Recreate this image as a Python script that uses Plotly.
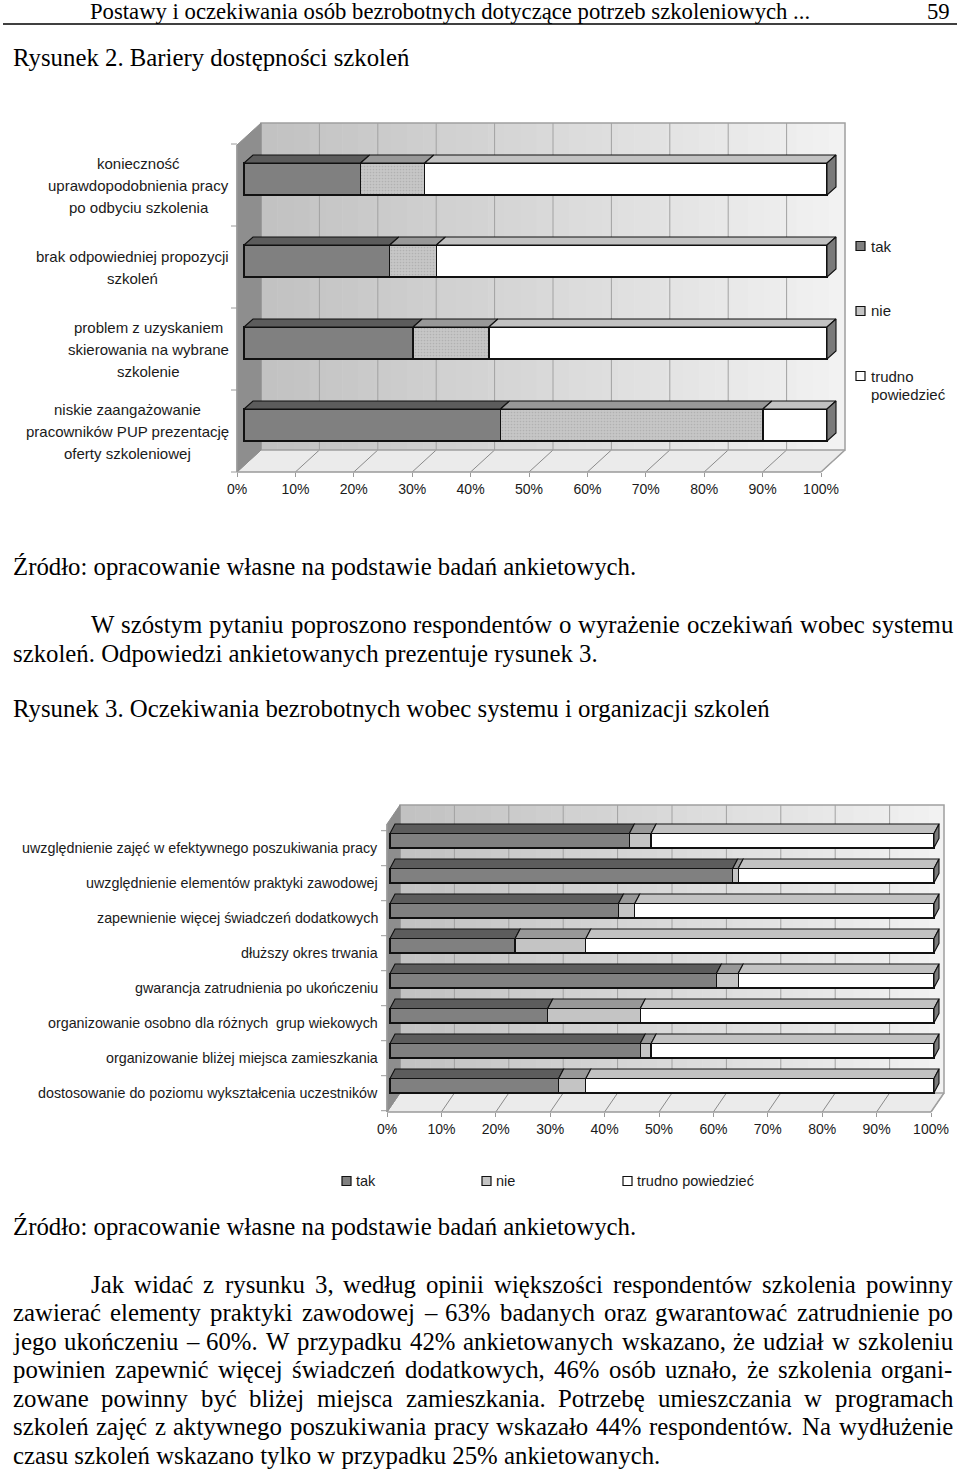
import plotly.graph_objects as go

# ---------------- data ----------------
series_names = ["tak", "nie", "trudno powiedzieć"]

barriers = [
    "konieczność uprawdopodobnienia pracy po odbyciu szkolenia",
    "brak odpowiedniej propozycji szkoleń",
    "problem z uzyskaniem skierowania na wybrane szkolenie",
    "niskie zaangażowanie pracowników PUP prezentację oferty szkoleniowej",
]
barrier_label_lines = [
    ["konieczność", "uprawdopodobnienia pracy", "po odbyciu szkolenia"],
    ["brak odpowiedniej propozycji", "szkoleń"],
    ["problem z uzyskaniem", "skierowania na wybrane", "szkolenie"],
    ["niskie zaangażowanie", "pracowników PUP prezentację", "oferty szkoleniowej"],
]
barrier_tak = [20, 25, 29, 44]
barrier_nie = [11, 8, 13, 45]
barrier_trudno = [69, 67, 58, 11]

expectations = [
    "uwzględnienie zajęć w efektywnego poszukiwania pracy",
    "uwzględnienie elementów praktyki zawodowej",
    "zapewnienie więcej świadczeń dodatkowych",
    "dłuższy okres trwania",
    "gwarancja zatrudnienia po ukończeniu",
    "organizowanie osobno dla różnych  grup wiekowych",
    "organizowanie bliżej miejsca zamieszkania",
    "dostosowanie do poziomu wykształcenia uczestników",
]
expect_tak = [44, 63, 42, 23, 60, 29, 46, 31]
expect_nie = [4, 1, 3, 13, 4, 17, 2, 5]
expect_trudno = [52, 36, 55, 64, 36, 54, 52, 64]

tick_values = [0, 10, 20, 30, 40, 50, 60, 70, 80, 90, 100]
tick_labels = ["0%", "10%", "20%", "30%", "40%", "50%", "60%", "70%", "80%", "90%", "100%"]

# ---------------- page text ----------------
header_text = "Postawy i oczekiwania osób bezrobotnych dotyczące potrzeb szkoleniowych ..."
page_number = "59"
fig2_title = "Rysunek 2. Bariery dostępności szkoleń"
fig3_title = "Rysunek 3. Oczekiwania bezrobotnych wobec systemu i organizacji szkoleń"
source_text = "Źródło: opracowanie własne na podstawie badań ankietowych."
para1 = [
    "W szóstym pytaniu poproszono respondentów o wyrażenie oczekiwań wobec systemu",
    "szkoleń. Odpowiedzi ankietowanych prezentuje rysunek 3.",
]
para2 = [
    "Jak widać z rysunku 3, według opinii większości respondentów szkolenia powinny",
    "zawierać elementy praktyki zawodowej – 63% badanych oraz gwarantować zatrudnienie po",
    "jego ukończeniu – 60%. W przypadku 42% ankietowanych wskazano, że udział w szkoleniu",
    "powinien zapewnić więcej świadczeń dodatkowych, 46% osób uznało, że szkolenia organi-",
    "zowane powinny być bliżej miejsca zamieszkania. Potrzebę umieszczania w programach",
    "szkoleń zajęć z aktywnego poszukiwania pracy wskazało 44% respondentów. Na wydłużenie",
    "czasu szkoleń wskazano tylko w przypadku 25% ankietowanych.",
]

# ---------------- styles ----------------
W, H = 960, 1470
SANS = "Liberation Sans, Arial, sans-serif"
SERIF = "Liberation Serif, Times New Roman, serif"
C_TAK, C_NIE, C_TRUD = "#808080", "#c4c4c4", "#ffffff"
T_TAK, T_NIE, T_TRUD = "#5c5c5c", "#989898", "#c2c2c2"
C_SIDE = "#7a7a7a"
LABEL_COLOR = "#1a1a1a"

def X(p):
    return p / W

def Y(p):
    return 1 - p / H

TIMES = {' ': 250, ',': 250, '.': 250, ':': 278, '%': 833, '–': 500, '-': 333}
for ch, w in zip("abcdefghijklmnopqrstuvwxyz",
                 [444, 500, 444, 500, 444, 333, 500, 500, 278, 278, 500, 278, 778,
                  500, 500, 500, 500, 333, 389, 278, 500, 500, 722, 500, 500, 444]):
    TIMES[ch] = w
for ch, w in zip("ABCDEFGHIJKLMNOPQRSTUVWXYZ",
                 [722, 667, 667, 722, 611, 556, 722, 722, 333, 389, 722, 611, 889,
                  722, 722, 556, 722, 667, 556, 611, 722, 722, 944, 722, 722, 611]):
    TIMES[ch] = w
TIMES.update({'ą': 444, 'ć': 444, 'ę': 444, 'ł': 278, 'ń': 500, 'ó': 500, 'ś': 389,
              'ź': 444, 'ż': 444, 'Ź': 611, 'Ż': 611, 'Ś': 556})

ARIAL = {' ': 278}
for ch, w in zip("abcdefghijklmnopqrstuvwxyz",
                 [556, 556, 500, 556, 556, 278, 556, 556, 222, 222, 500, 222, 833,
                  556, 556, 556, 556, 333, 500, 278, 556, 500, 722, 500, 500, 500]):
    ARIAL[ch] = w
ARIAL.update({'ą': 556, 'ć': 500, 'ę': 556, 'ł': 222, 'ń': 556, 'ó': 556, 'ś': 500,
              'ź': 500, 'ż': 500, 'P': 667, 'U': 722})

def width(s, table, size, default=500):
    return sum(table.get(c, default) for c in s) / 1000.0 * size

shapes = []
annotations = []

def poly(points, fill, lc=None, lw=0, layer="below"):
    path = "M " + " L ".join(f"{X(x):.6f},{Y(y):.6f}" for x, y in points) + " Z"
    shapes.append(dict(type="path", xref="paper", yref="paper", path=path,
                       fillcolor=fill, line=dict(color=lc or fill, width=lw), layer=layer))

def seg(x0, y0, x1, y1, color, w=1, layer="below"):
    shapes.append(dict(type="line", xref="paper", yref="paper", x0=X(x0), y0=Y(y0),
                       x1=X(x1), y1=Y(y1), line=dict(color=color, width=w), layer=layer))

def text(t, x, y, size, family=SERIF, xanchor="left", color="#000000", **kw):
    annotations.append(dict(text=t, x=X(x), y=Y(y), xref="paper", yref="paper",
                            xanchor=xanchor, yanchor="middle", showarrow=False,
                            borderpad=0, font=dict(family=family, size=size, color=color), **kw))

def justified(t, x0, x1, y, size):
    words = t.split(" ")
    ws = [width(w, TIMES, size) for w in words]
    gap = (x1 - x0 - sum(ws)) / (len(words) - 1)
    x = x0
    for w, wd in zip(words, ws):
        text(w, x, y, size)
        x += wd + gap

def draw_box(fx0, fx1, top, bot, dx, dy, ncat, catstep, cat0):
    bx0, bx1, bbot = fx0 + dx, fx1 + dx, bot - dy
    n = 36
    for i in range(n):
        a = i / (n - 1)
        g = int(194 + a * 48)
        xa = bx0 + (bx1 - bx0) * i / n
        xb = bx0 + (bx1 - bx0) * (i + 1) / n + 0.6
        poly([(xa, top), (xb, top), (xb, bbot), (xa, bbot)], f"rgb({g},{g},{g})")
    for k in range(1, 10):
        xk = bx0 + (bx1 - bx0) * k / 10
        seg(xk, top, xk, bbot, "#a2a2a2", 1)
    # floor
    poly([(fx0, bot), (bx0, bbot), (bx1, bbot), (fx1, bot)], "#ebebeb")
    for k in range(0, 11):
        xf = fx0 + (fx1 - fx0) * k / 10
        xb = bx0 + (bx1 - bx0) * k / 10
        seg(xf, bot, xb, bbot, "#8a8a8a", 1)
    # back wall border
    poly([(bx0, top), (bx1, top), (bx1, bbot), (bx0, bbot)], "rgba(0,0,0,0)", "#a0a0a0", 1.5)
    seg(bx1, bbot, fx1, bot, "#a0a0a0", 1.5)
    # left wall
    poly([(fx0, top + dy), (bx0, top), (bx0, bbot), (fx0, bot)], "#8e8e8e", "#8e8e8e", 1)
    seg(fx0, top + dy, fx0, bot, "#9a9a9a", 1.5)
    seg(fx0, bot, fx1, bot, "#9a9a9a", 1.5)
    for k in range(ncat + 1):
        yk = cat0 + catstep * k
        seg(fx0 - 6, yk, fx0, yk, "#9a9a9a", 1)

# ---------------- geometry (pixels) ----------------
# chart 1
C1_X0, C1_UNIT = 244, 5.83
C1_BOT_CENTER, C1_STEP = 425, 82
C1_BAR_H = 32
C1_DX, C1_DY = 9, 8
# chart 2
C2_X0, C2_UNIT = 390, 5.44
C2_BOT_CENTER, C2_STEP = 1085.7, 35
C2_BAR_H = 14.3
C2_DX, C2_DY = 5, 9.5

draw_box(237, 821, 123, 472, 24, 22, 4, 82, 144)
draw_box(387, 931, 805, 1112, 13, 19, 8, 35, 830.7)

fig = go.Figure()

def add_chart(xa, ya, cats, tak, nie, trud, bar_h, step, dxp, dyp, unit, pattern):
    n = len(cats)
    pos = [n - 1 - i for i in range(n)]
    bw = bar_h / step
    specs = [(tak, C_TAK, T_TAK, None), (nie, C_NIE, T_NIE, pattern), (trud, C_TRUD, T_TRUD, None)]
    base = [0] * n
    ddx, ddy = dxp / unit, dyp / step
    for (vals, fc, tc, pat), name in zip(specs, series_names):
        marker = dict(color=fc, line=dict(color="#111111", width=1.3))
        if pat:
            marker["pattern"] = pat
        fig.add_trace(go.Bar(y=pos, x=vals, base=base, orientation="h", width=bw, name=name,
                             marker=marker, xaxis=xa, yaxis=ya, showlegend=False,
                             customdata=cats,
                             hovertemplate="%{customdata}: %{x}%<extra>" + name + "</extra>"))
        px_, py_ = [], []
        for p, b, v in zip(pos, base, vals):
            yt = p + bw / 2
            px_ += [b, b + v, b + v + ddx, b + ddx, b, None]
            py_ += [yt, yt, yt + ddy, yt + ddy, yt, None]
        fig.add_trace(go.Scatter(x=px_, y=py_, fill="toself", fillcolor=tc, mode="lines",
                                 line=dict(color="#111111", width=1.1), xaxis=xa, yaxis=ya,
                                 showlegend=False, hoverinfo="skip"))
        base = [b + v for b, v in zip(base, vals)]
    sx, sy = [], []
    for p, b in zip(pos, base):
        sx += [b, b, b + ddx, b + ddx, b, None]
        sy += [p - bw / 2, p + bw / 2, p + bw / 2 + ddy, p - bw / 2 + ddy, p - bw / 2, None]
    fig.add_trace(go.Scatter(x=sx, y=sy, fill="toself", fillcolor=C_SIDE, mode="lines",
                             line=dict(color="#111111", width=1.1), xaxis=xa, yaxis=ya,
                             showlegend=False, hoverinfo="skip"))
    return pos

pos1 = add_chart("x", "y", barriers, barrier_tak, barrier_nie, barrier_trudno,
                 C1_BAR_H, C1_STEP, C1_DX, C1_DY, C1_UNIT,
                 dict(shape=".", bgcolor="#c6c6c6", fgcolor="#9c9c9c", size=3, solidity=0.25))
pos2 = add_chart("x2", "y2", expectations, expect_tak, expect_nie, expect_trudno,
                 C2_BAR_H, C2_STEP, C2_DX, C2_DY, C2_UNIT, None)

# invisible anchors so that the percentage axes (front edge of the floor) are drawn
for xa, ya in (("x3", "y3"), ("x4", "y4")):
    fig.add_trace(go.Scatter(x=tick_values, y=[0.5] * len(tick_values), mode="markers",
                             marker=dict(opacity=0, size=1), xaxis=xa, yaxis=ya,
                             showlegend=False, hoverinfo="skip"))

# category labels chart 1 (centered multi-line blocks)
for p, lines in zip(pos1, barrier_label_lines):
    maxw = max(width(l, ARIAL, 15, 556) for l in lines)
    cx = 229 - maxw / 2
    n = len(lines)
    for j, l in enumerate(lines):
        off = 6 + (j - (n - 1) / 2) * 22
        annotations.append(dict(text=l, x=X(cx), xref="paper", y=p, yref="y", yshift=-off,
                                xanchor="center", yanchor="middle", showarrow=False, borderpad=0,
                                font=dict(family=SANS, size=15, color=LABEL_COLOR)))
# category labels chart 2
for p, l in zip(pos2, expectations):
    annotations.append(dict(text=l, x=X(379), xref="paper", y=p, yref="y2", yshift=-7,
                            xanchor="right", yanchor="middle", showarrow=False, borderpad=0,
                            font=dict(family=SANS, size=14.3, color=LABEL_COLOR)))

# legends
def legend_box(x, y, fill):
    poly([(x, y - 4.5), (x + 9, y - 4.5), (x + 9, y + 4.5), (x, y + 4.5)], fill, "#111111", 1.2, "above")

for (name, fill, yy) in zip(series_names, [C_TAK, C_NIE, C_TRUD], [246, 311, 376]):
    legend_box(856, yy, fill)
    if name == "trudno powiedzieć":
        text("trudno", 870, 376, 15, SANS, color=LABEL_COLOR)
        text("powiedzieć", 870, 395, 15, SANS, color=LABEL_COLOR)
    else:
        text(name, 870, yy, 15, SANS, color=LABEL_COLOR)
for (name, fill, bx) in zip(series_names, [C_TAK, C_NIE, C_TRUD], [342, 482, 623]):
    legend_box(bx, 1181, fill)
    text(name, bx + 13, 1181, 14.5, SANS, color=LABEL_COLOR)

# page text
BODY = 24.8
text(header_text, 89, 12, 22.7)
text(page_number, 951, 12, 22.7, xanchor="right")
seg(3, 24, 957, 24, "#000000", 1.5, "above")
text(fig2_title, 12, 57, BODY)
text(source_text, 12, 566, BODY)
justified(para1[0], 90, 952, 625, BODY)
text(para1[1], 12, 653, BODY)
text(fig3_title, 12, 708, BODY)
text(source_text, 12, 1226, BODY)
for i, l in enumerate(para2):
    yy = 1284 + i * 28.5
    if i == len(para2) - 1:
        text(l, 12, yy, BODY)
    else:
        justified(l, 90 if i == 0 else 12, 952, yy, BODY)

hidden = dict(visible=False, fixedrange=True, automargin=False)
tickaxis = dict(range=[0, 100], tickvals=tick_values, ticktext=tick_labels, ticks="outside",
                ticklen=4, tickcolor="#9a9a9a", showgrid=False, zeroline=False, showline=False,
                automargin=False,
                tickfont=dict(family=SANS, size=14, color=LABEL_COLOR), fixedrange=True)

fig.update_layout(
    width=W, height=H, autosize=False,
    margin=dict(l=0, r=0, t=0, b=0, autoexpand=False),
    paper_bgcolor="#ffffff", plot_bgcolor="rgba(0,0,0,0)",
    barmode="stack", showlegend=False,
    xaxis=dict(domain=[X(237), X(845)], range=[(237 - C1_X0) / C1_UNIT, (845 - C1_X0) / C1_UNIT], anchor="y", **hidden),
    yaxis=dict(domain=[Y(472), Y(123)], range=[(C1_BOT_CENTER - 472) / C1_STEP, (C1_BOT_CENTER - 123) / C1_STEP], anchor="x", **hidden),
    xaxis2=dict(domain=[X(387), X(944)], range=[(387 - C2_X0) / C2_UNIT, (944 - C2_X0) / C2_UNIT], anchor="y2", **hidden),
    yaxis2=dict(domain=[Y(1112), Y(805)], range=[(C2_BOT_CENTER - 1112) / C2_STEP, (C2_BOT_CENTER - 805) / C2_STEP], anchor="x2", **hidden),
    xaxis3=dict(domain=[X(237), X(821)], anchor="y3", **tickaxis),
    yaxis3=dict(domain=[Y(472), Y(472) + 0.001], anchor="x3", range=[0, 1], **hidden),
    xaxis4=dict(domain=[X(387), X(931)], anchor="y4", **tickaxis),
    yaxis4=dict(domain=[Y(1112), Y(1112) + 0.001], anchor="x4", range=[0, 1], **hidden),
    shapes=shapes,
    annotations=annotations,
)

fig.write_html("out.html")
